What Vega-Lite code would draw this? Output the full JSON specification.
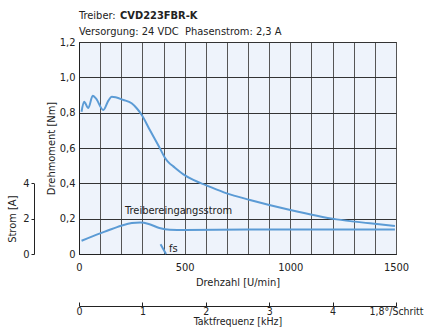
{
  "$schema": "https://vega.github.io/schema/vega-lite/v6.json",
  "width": 317,
  "height": 212,
  "autosize": {"type": "none"},
  "padding": {"left": 79, "top": 42, "right": 30, "bottom": 75},
  "config": {
    "font": "Liberation Sans Narrow, DejaVu Sans Condensed, sans-serif",
    "view": {"fill": "#eef3fb", "stroke": "#333333", "strokeWidth": 1},
    "axis": {
      "labelFont": "Liberation Sans Narrow, DejaVu Sans Condensed, sans-serif",
      "titleFont": "Liberation Sans Narrow, DejaVu Sans Condensed, sans-serif",
      "labelFontSize": 11,
      "titleFontSize": 11,
      "titleFontWeight": "normal",
      "labelColor": "#222222",
      "titleColor": "#222222",
      "domainColor": "#222222",
      "tickColor": "#222222"
    },
    "text": {"font": "Liberation Sans Narrow, DejaVu Sans Condensed, sans-serif", "fontSize": 11, "color": "#222222"}
  },
  "datasets": {
    "torque": [
      {"rpm": 12, "nm": 0.805},
      {"rpm": 24, "nm": 0.862},
      {"rpm": 44, "nm": 0.826},
      {"rpm": 65, "nm": 0.896},
      {"rpm": 80, "nm": 0.881},
      {"rpm": 115, "nm": 0.815},
      {"rpm": 139, "nm": 0.868},
      {"rpm": 155, "nm": 0.89},
      {"rpm": 210, "nm": 0.872},
      {"rpm": 249, "nm": 0.853},
      {"rpm": 273, "nm": 0.825},
      {"rpm": 297, "nm": 0.787},
      {"rpm": 336, "nm": 0.7},
      {"rpm": 383, "nm": 0.598},
      {"rpm": 405, "nm": 0.548},
      {"rpm": 425, "nm": 0.517},
      {"rpm": 446, "nm": 0.496},
      {"rpm": 494, "nm": 0.451},
      {"rpm": 541, "nm": 0.419},
      {"rpm": 600, "nm": 0.39},
      {"rpm": 699, "nm": 0.343},
      {"rpm": 809, "nm": 0.306},
      {"rpm": 990, "nm": 0.252},
      {"rpm": 1219, "nm": 0.196},
      {"rpm": 1377, "nm": 0.174},
      {"rpm": 1495, "nm": 0.158}
    ],
    "current": [
      {"rpm": 12, "a": 0.75},
      {"rpm": 100, "a": 1.17},
      {"rpm": 130, "a": 1.3},
      {"rpm": 200, "a": 1.6},
      {"rpm": 250, "a": 1.75},
      {"rpm": 290, "a": 1.78},
      {"rpm": 330, "a": 1.7},
      {"rpm": 380, "a": 1.47},
      {"rpm": 430, "a": 1.37},
      {"rpm": 500, "a": 1.36},
      {"rpm": 800, "a": 1.38},
      {"rpm": 1200, "a": 1.39},
      {"rpm": 1495, "a": 1.38}
    ],
    "fs": [
      {"rpm": 386, "nm": 0.055},
      {"rpm": 412, "nm": 0.0}
    ],
    "one": [{}]
  },
  "resolve": {
    "scale": {"x": "shared", "y": "independent"},
    "axis": {"x": "independent", "y": "independent"}
  },
  "layer": [
    {
      "data": {"name": "torque"},
      "mark": {"type": "line", "color": "#5b9bd5", "strokeWidth": 2, "interpolate": "monotone"},
      "encoding": {
        "x": {
          "field": "rpm", "type": "quantitative",
          "scale": {"domain": [0, 1500], "nice": false},
          "axis": {
            "title": "Drehzahl [U/min]",
            "values": [0, 100, 200, 300, 400, 500, 600, 700, 800, 900, 1000, 1100, 1200, 1300, 1400, 1500],
            "labelExpr": "datum.value % 500 == 0 ? format(datum.value, 'd') : ''",
            "grid": true, "gridColor": "#555555", "gridOpacity": 1, "gridWidth": 1,
            "ticks": false, "tickSize": 0, "labelPadding": 7, "titlePadding": 4,
            "domain": true, "labelFlush": false, "labelOverlap": false
          }
        },
        "y": {
          "field": "nm", "type": "quantitative",
          "scale": {"domain": [0, 1.2], "nice": false},
          "axis": {
            "title": "Drehmoment [Nm]",
            "values": [0, 0.2, 0.4, 0.6, 0.8, 1.0, 1.2],
            "labelExpr": "datum.value == 0 ? '0' : replace(format(datum.value, '.1f'), '.', ',')",
            "grid": true, "gridColor": "#333333", "gridOpacity": 1, "gridWidth": 1,
            "ticks": false, "tickSize": 0, "labelPadding": 4, "titlePadding": 3,
            "domain": true, "labelFlush": false
          }
        }
      }
    },
    {
      "data": {"name": "current"},
      "mark": {"type": "line", "color": "#5b9bd5", "strokeWidth": 2, "interpolate": "monotone"},
      "encoding": {
        "x": {"field": "rpm", "type": "quantitative", "scale": {"domain": [0, 1500], "nice": false}, "axis": null},
        "y": {
          "field": "a", "type": "quantitative",
          "scale": {"domain": [0, 4], "range": [212, 141.333], "nice": false, "zero": true},
          "axis": {
            "title": "Strom [A]", "orient": "left", "offset": 45,
            "values": [0, 2, 4], "grid": false,
            "tickSize": 3, "labelPadding": 2, "titlePadding": 5, "labelFlush": false
          }
        }
      }
    },
    {
      "data": {"name": "fs"},
      "mark": {"type": "line", "color": "#5b9bd5", "strokeWidth": 2},
      "encoding": {
        "x": {
          "field": "rpm", "type": "quantitative", "scale": {"domain": [0, 1500], "nice": false},
          "axis": {
            "title": "Taktfrequenz [kHz]", "orient": "bottom", "offset": 52,
            "values": [0, 300, 600, 900, 1200, 1500],
            "labelExpr": "datum.value == 1500 ? '1,8°/Schritt' : format(datum.value / 300, 'd')",
            "grid": false, "tickSize": -4, "labelPadding": 4, "titlePadding": 0,
            "labelFontSize": 10.5, "titleFontSize": 10.5,
            "labelFlush": false, "labelOverlap": false
          }
        },
        "y": {"field": "nm", "type": "quantitative", "scale": {"domain": [0, 1.2], "nice": false}, "axis": null}
      }
    },
    {
      "data": {"name": "one"},
      "mark": {"type": "text", "text": "Treibereingangsstrom", "align": "left", "baseline": "middle"},
      "encoding": {
        "x": {"datum": 218, "type": "quantitative", "scale": {"domain": [0, 1500], "nice": false}, "axis": null},
        "y": {"datum": 0.241, "type": "quantitative", "scale": {"domain": [0, 1.2], "nice": false}, "axis": null}
      }
    },
    {
      "data": {"name": "one"},
      "mark": {"type": "text", "text": "fs", "align": "left", "baseline": "middle"},
      "encoding": {
        "x": {"datum": 426, "type": "quantitative", "scale": {"domain": [0, 1500], "nice": false}, "axis": null},
        "y": {"datum": 0.028, "type": "quantitative", "scale": {"domain": [0, 1.2], "nice": false}, "axis": null}
      }
    },
    {
      "data": {"name": "one"},
      "mark": {"type": "text", "text": "Treiber:", "align": "left", "baseline": "middle", "clip": false},
      "encoding": {
        "x": {"datum": 0, "type": "quantitative", "scale": {"domain": [0, 1500], "nice": false}, "axis": null},
        "y": {"datum": 1.347, "type": "quantitative", "scale": {"domain": [0, 1.2], "nice": false}, "axis": null}
      }
    },
    {
      "data": {"name": "one"},
      "mark": {"type": "text", "text": "CVD223FBR-K", "align": "left", "baseline": "middle", "fontWeight": "bold", "dx": 41, "clip": false},
      "encoding": {
        "x": {"datum": 0, "type": "quantitative", "scale": {"domain": [0, 1500], "nice": false}, "axis": null},
        "y": {"datum": 1.347, "type": "quantitative", "scale": {"domain": [0, 1.2], "nice": false}, "axis": null}
      }
    },
    {
      "data": {"name": "one"},
      "mark": {"type": "text", "text": "Versorgung: 24 VDC\u00a0 Phasenstrom: 2,3 A", "align": "left", "baseline": "middle", "clip": false},
      "encoding": {
        "x": {"datum": 0, "type": "quantitative", "scale": {"domain": [0, 1500], "nice": false}, "axis": null},
        "y": {"datum": 1.259, "type": "quantitative", "scale": {"domain": [0, 1.2], "nice": false}, "axis": null}
      }
    }
  ]
}
